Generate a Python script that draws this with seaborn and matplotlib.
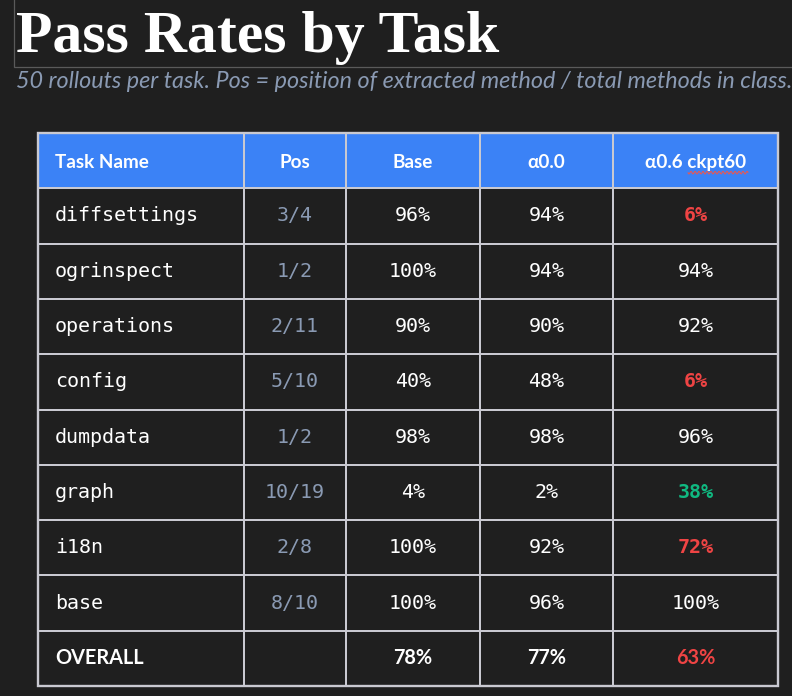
import numpy as np
import matplotlib
matplotlib.use("Agg")
import matplotlib.pyplot as plt
from matplotlib.colors import ListedColormap
import seaborn as sns

# Table contents
tasks = ["diffsettings", "ogrinspect", "operations", "config",
         "dumpdata", "graph", "i18n", "base"]
positions = ["3/4", "1/2", "2/11", "5/10", "1/2", "10/19", "2/8", "8/10"]
base_rate = [96, 100, 90, 40, 98, 4, 100, 100]
alpha00_rate = [94, 94, 90, 48, 98, 2, 92, 96]
alpha06_rate = [6, 94, 92, 6, 96, 38, 72, 100]
overall = [78, 77, 63]
headers = ["Task Name", "Pos", "Base", "\u03b10.0", "\u03b10.6 ckpt60"]

BG = "#1f1f1f"
HEAD = "#3b82f6"
GRID = "#c9c9d1"
SLATE = "#8a9ab3"
RED = "#ef4444"
GREEN = "#10b981"

sns.set_theme(style="dark", rc={"figure.facecolor": BG, "axes.facecolor": BG})
plt.rcParams["font.family"] = ["DejaVu Sans"]

fig = plt.figure(figsize=(7.92, 6.96), dpi=100)
ax = fig.add_axes([0, 0, 1, 1])
ax.set_xlim(0, 792)
ax.set_ylim(696, 0)
ax.axis("off")

# title block
ax.add_patch(plt.Rectangle((14, -5), 800, 72, fill=False, edgecolor="#5a5a5a", lw=0.9))
ax.text(16, 52, "Pass Rates by Task", family="Liberation Serif", weight="bold",
        fontsize=43, color="white", va="baseline", ha="left")
ax.text(16, 81.5, "50 rollouts per task. Pos = position of extracted method / total methods in class.",
        family="Lato", style="italic", fontsize=16.8, color=SLATE, va="center", ha="left")

# table grid
col_edges = np.array([38, 244, 346, 480, 613, 778])
n_rows = len(tasks) + 2
row_edges = np.linspace(133, 686, n_rows + 1)
cell_kind = np.zeros((n_rows, len(col_edges) - 1))
cell_kind[0, :] = 1
ax.pcolormesh(col_edges, row_edges, cell_kind, cmap=ListedColormap([BG, HEAD]),
              edgecolors=GRID, linewidth=1.4)
ax.add_patch(plt.Rectangle((col_edges[0], row_edges[0]), col_edges[-1] - col_edges[0],
                           row_edges[-1] - row_edges[0], fill=False, edgecolor=GRID, lw=1.7))

centers = (col_edges[:-1] + col_edges[1:]) / 2
row_mid = (row_edges[:-1] + row_edges[1:]) / 2
sans = "Lato"
mono = "DejaVu Sans Mono"
mono_size = 14.4

for j, h in enumerate(headers):
    x = col_edges[0] + 17 if j == 0 else centers[j]
    ax.text(x, row_mid[0] + 1.5, h, family=sans, weight="bold", fontsize=13.6, color="white",
            ha="left" if j == 0 else "center", va="center")

# spell-check squiggle under "ckpt60"
sq_x = np.linspace(688, 748, 400)
ax.plot(sq_x, row_mid[0] + 12 + 1.3 * np.sin((sq_x - 688) * 1.57), color="#e05a5a", lw=0.8)


def rate_color(val, ref):
    if val - ref >= 10:
        return GREEN
    if ref - val >= 10:
        return RED
    return "white"


for i, t in enumerate(tasks):
    y = row_mid[i + 1]
    ax.text(col_edges[0] + 17, y, t, family=mono, fontsize=mono_size, color="white", ha="left", va="center")
    ax.text(centers[1], y, positions[i], family=mono, fontsize=mono_size, color=SLATE, ha="center", va="center")
    ax.text(centers[2], y, f"{base_rate[i]}%", family=mono, fontsize=mono_size, color="white", ha="center", va="center")
    ax.text(centers[3], y, f"{alpha00_rate[i]}%", family=mono, fontsize=mono_size, color="white", ha="center", va="center")
    c = rate_color(alpha06_rate[i], base_rate[i])
    ax.text(centers[4], y, f"{alpha06_rate[i]}%", family=mono, fontsize=mono_size, color=c,
            weight="normal" if c == "white" else "bold", ha="center", va="center")

y = row_mid[-1]
ax.text(col_edges[0] + 17, y, "OVERALL", family=sans, weight="bold", fontsize=14.3, color="white", ha="left", va="center")
for k, v in enumerate(overall):
    c = "white" if k < 2 else rate_color(v, overall[0])
    ax.text(centers[k + 2], y, f"{v}%", family=sans, weight="bold", fontsize=14.3, color=c, ha="center", va="center")

fig.savefig("out.png", dpi=100, facecolor=BG)
